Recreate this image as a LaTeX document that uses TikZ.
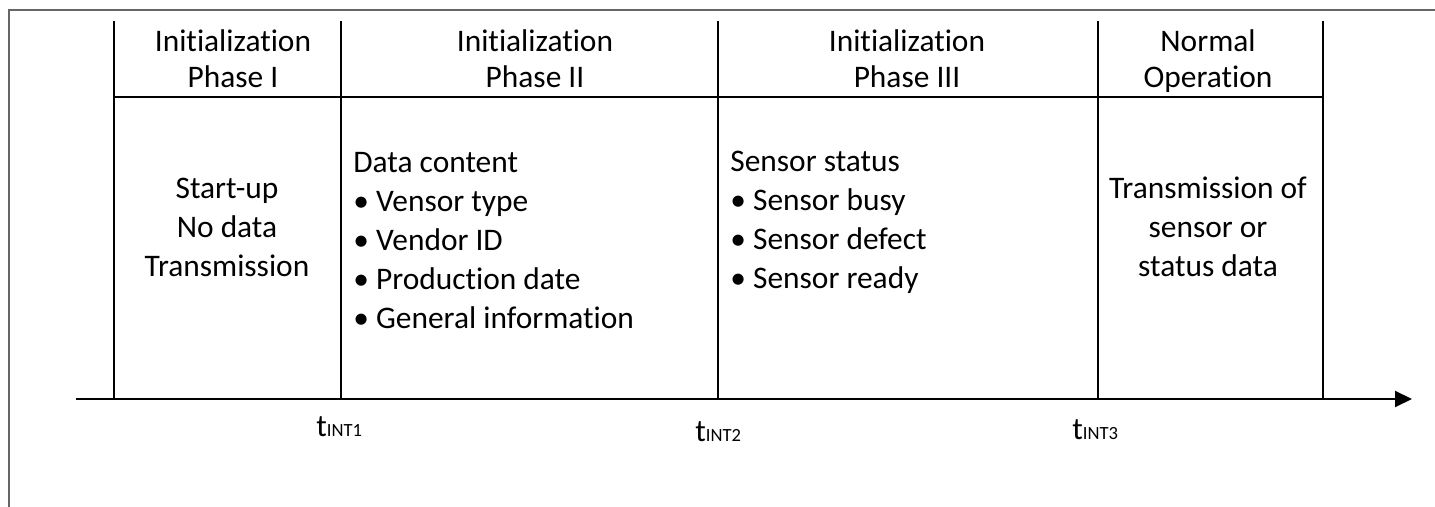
\documentclass[tikz,border=0pt]{standalone}
\usepackage{fontspec}
\setmainfont{Carlito}[Ligatures=NoCommon]
\usetikzlibrary{arrows.meta}
\begin{document}
\begin{tikzpicture}[x=0.5pt,y=-0.5pt,
  frame/.style={draw=black!60, line width=0.7pt},
  bar/.style={draw=black, line width=1pt},
  head/.style={font=\fontsize{15.7}{18}\selectfont, align=center, anchor=base, inner sep=0pt},
  bodyc/.style={font=\fontsize{15.7}{19.5}\selectfont, align=center, anchor=base, inner sep=0pt},
  bodyl/.style={font=\fontsize{15.7}{19.5}\selectfont, align=left, anchor=base west, inner sep=0pt},
  tlabel/.style={font=\fontsize{15.7}{18}\selectfont, anchor=base west, inner sep=0pt}
]
\useasboundingbox (0,0) rectangle (1435,507);
% frame
\coordinate (f0) at (9,507);
\coordinate (f1) at (9,10);
\coordinate (f2) at (1435,10);
\draw[frame] (f0) -- (f1) -- (f2);
% column lines
\foreach \n/\x in {a/114,b/341,c/718,d/1098,e/1323}{
  \coordinate (\n t) at (\x,21);
  \coordinate (\n b) at (\x,399);
  \draw[bar] (\n t) -- (\n b);
}
% header separator
\coordinate (h0) at (114,97);
\coordinate (h1) at (1323,97);
\draw[bar] (h0) -- (h1);
% time axis
\coordinate (ax0) at (76,399);
\coordinate (ax1) at (1412,399);
\draw[bar, -{Triangle[length=8.5pt,width=8pt]}] (ax0) -- (ax1);
% headers (anchor = baseline of last line)
\node[head] (h1t) at (233,88) {Initialization\\Phase I};
\node[head] (h2t) at (535,88) {Initialization\\Phase II};
\node[head] (h3t) at (907,88) {Initialization\\Phase III};
\node[head] (h4t) at (1208,88) {Normal\\Operation};
% bodies
\node[bodyc] (b1) at (227,277) {Start-up\\No data\\Transmission};
\node[bodyl] (b2) at (353,329) {Data content\\• Vensor type\\• Vendor ID\\• Production date\\• General information};
\node[bodyl] (b3) at (730,289) {Sensor status\\• Sensor busy\\• Sensor defect\\• Sensor ready};
\node[bodyc] (b4) at (1208,277) {Transmission of\\sensor or\\status data};
% time labels
\node[tlabel] (t1) at (316,437) {t{\fontsize{9.3}{10}\selectfont INT1}};
\node[tlabel] (t2) at (695,442) {t{\fontsize{9.3}{10}\selectfont INT2}};
\node[tlabel] (t3) at (1072,440) {t{\fontsize{9.3}{10}\selectfont INT3}};
\end{tikzpicture}
\end{document}
